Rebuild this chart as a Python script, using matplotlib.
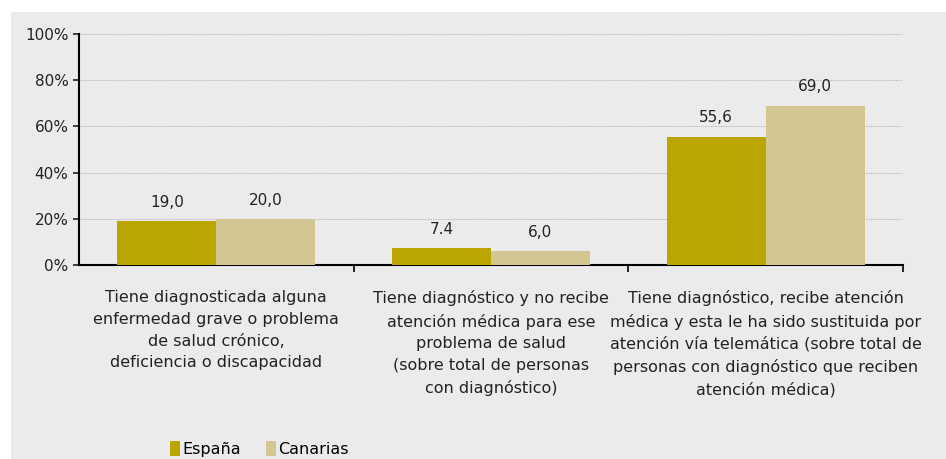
import matplotlib.pyplot as plt
import matplotlib.patches as mpatches
from matplotlib.ticker import FuncFormatter
import numpy as np

# --- data ---
categories = [
    "Tiene diagnosticada alguna\nenfermedad grave o problema\nde salud crónico,\ndeficiencia o discapacidad",
    "Tiene diagnóstico y no recibe\natención médica para ese\nproblema de salud\n(sobre total de personas\ncon diagnóstico)",
    "Tiene diagnóstico, recibe atención\nmédica y esta le ha sido sustituida por\natención vía telemática (sobre total de\npersonas con diagnóstico que reciben\natención médica)",
]
espana = [19.0, 7.4, 55.6]
canarias = [20.0, 6.0, 69.0]
espana_labels = ["19,0", "7.4", "55,6"]
canarias_labels = ["20,0", "6,0", "69,0"]
series_names = ["España", "Canarias"]

plt.rcParams['font.family'] = ['Liberation Sans Narrow', 'DejaVu Sans']

col_es = '#BBA500'
col_ca = '#D2C793'
bg = '#EBEBEB'

fig = plt.figure(figsize=(9.46, 4.59), dpi=100)
fig.patch.set_facecolor('white')
# gray panel behind the chart
fig.patches.append(mpatches.Rectangle((11 / 946, 0), 1, (459 - 12) / 459,
                                      transform=fig.transFigure, facecolor=bg,
                                      edgecolor='none', zorder=-10))

ax = fig.add_axes([79 / 946, (459 - 265) / 459, 824 / 946, 231 / 459])
ax.set_facecolor(bg)

x = np.arange(len(categories))
w = 0.36
b1 = ax.bar(x - w / 2, espana, w, color=col_es, label=series_names[0], zorder=3)
b2 = ax.bar(x + w / 2, canarias, w, color=col_ca, label=series_names[1], zorder=3)

for rect, lab in zip(b1, espana_labels):
    ax.annotate(lab, (rect.get_x() + rect.get_width() / 2, rect.get_height()),
                xytext=(0, 8), textcoords='offset points', ha='center', va='bottom',
                fontsize=11, color='#222222')
for rect, lab in zip(b2, canarias_labels):
    ax.annotate(lab, (rect.get_x() + rect.get_width() / 2, rect.get_height()),
                xytext=(0, 8), textcoords='offset points', ha='center', va='bottom',
                fontsize=11, color='#222222')

ax.set_xlim(-0.5, 2.5)
ax.set_ylim(0, 100)
ax.set_yticks(range(0, 101, 20))
ax.yaxis.set_major_formatter(FuncFormatter(lambda v, p: f"{int(v)}%"))
ax.tick_params(axis='y', labelsize=11, length=4, width=1.2, colors='#222222')
ax.grid(axis='y', color='#aaaaaa', linestyle=(0, (1, 1)), linewidth=0.6, zorder=0)

# category boundary ticks on the x axis
ax.set_xticks([0.5, 1.5, 2.5])
ax.set_xticklabels([])
ax.tick_params(axis='x', length=5, width=1.2, direction='out')
for i, c in enumerate(categories):
    ax.text(i, -11, c, ha='center', va='top', fontsize=11.5, linespacing=1.55,
            color='#222222', transform=ax.transData)

for s in ['top', 'right']:
    ax.spines[s].set_visible(False)
ax.spines['left'].set_linewidth(1.5)
ax.spines['bottom'].set_linewidth(1.5)

fig.legend(handles=[b1, b2], labels=series_names, loc='upper left',
           bbox_to_anchor=(170 / 946, 18 / 459), ncol=2, frameon=False,
           handlelength=0.6, handleheight=1.1, handletextpad=0.15,
           columnspacing=1.6, fontsize=11.5, borderaxespad=0, borderpad=0)

fig.savefig('out.png', dpi=100)
